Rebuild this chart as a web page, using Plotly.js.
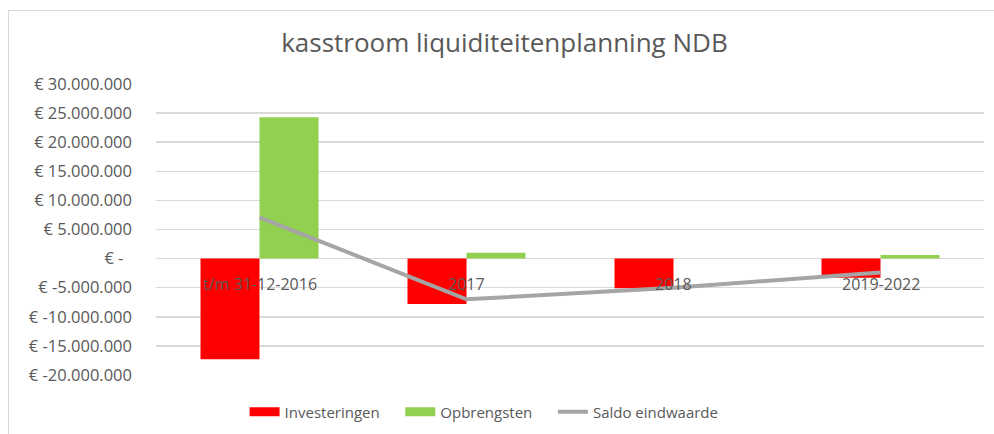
<!DOCTYPE html>
<html>
<head>
<meta charset="utf-8">
<script src="https://cdn.plot.ly/plotly-3.0.1.min.js"></script>
<style>
  html, body { margin: 0; padding: 0; background: #fff; }
  #wrap { position: relative; width: 994px; height: 434px; overflow: hidden; }
  #frame { position: absolute; left: 8px; top: 10px; width: 1100px; height: 500px; border: 1.5px solid #D9D9D9; box-sizing: border-box; }
  #chart { position: absolute; left: 0; top: 0; width: 994px; height: 434px; }
</style>
</head>
<body>
<div id="wrap">
  <div id="frame"></div>
  <div id="chart"></div>
</div>
<script>
const categories = ["t/m 31-12-2016", "2017", "2018", "2019-2022"];
const investeringen = [-17300000, -7800000, -5100000, -3300000];
const opbrengsten = [24300000, 1000000, 0, 600000];
const saldo = [7100000, -7000000, -5000000, -2400000];
const tickValues = [30000000, 25000000, 20000000, 15000000, 10000000, 5000000, 0, -5000000, -10000000, -15000000, -20000000];
const tickLabels = ["€ 30.000.000", "€ 25.000.000", "€ 20.000.000", "€ 15.000.000", "€ 10.000.000", "€ 5.000.000", "€ -\u00a0\u00a0", "€ -5.000.000", "€ -10.000.000", "€ -15.000.000", "€ -20.000.000"];

const font = "'Open Sans', 'Noto Sans', sans-serif";
const textColor = "#595959";
const red = "#FF0000", green = "#92D050", grey = "#A5A5A5";
const pad = "\u00a0\u00a0\u00a0\u00a0";

const traces = [
  { type: "bar", name: "Investeringen", legendgroup: "inv", showlegend: false, x: categories, y: investeringen, marker: { color: red } },
  { type: "bar", name: "Opbrengsten", legendgroup: "opb", showlegend: false, x: categories, y: opbrengsten, marker: { color: green } },
  { type: "scatter", mode: "lines", name: "Saldo eindwaarde", legendgroup: "sal", showlegend: false, x: categories, y: saldo, line: { color: grey, width: 4 } },
  // legend entries (wide rectangular swatches as in the reference)
  { type: "scatter", mode: "lines", name: "Investeringen" + pad, legendgroup: "inv", x: [null], y: [null], line: { color: red, width: 9 } },
  { type: "scatter", mode: "lines", name: "Opbrengsten" + pad, legendgroup: "opb", x: [null], y: [null], line: { color: green, width: 9 } },
  { type: "scatter", mode: "lines", name: "Saldo eindwaarde", legendgroup: "sal", x: [null], y: [null], line: { color: grey, width: 4 } }
];

const annotations = categories.map((c, i) => ({
  x: i, y: 0, xref: "x", yref: "y", yanchor: "top", yshift: -12,
  text: c, showarrow: false, font: { family: font, size: 16, color: textColor }
}));

const layout = {
  width: 994, height: 434,
  margin: { l: 156, r: 10, t: 84, b: 59 },
  paper_bgcolor: "rgba(0,0,0,0)",
  plot_bgcolor: "rgba(0,0,0,0)",
  barmode: "group",
  bargap: 0.43,
  bargroupgap: 0,
  title: { text: "kasstroom liquiditeitenplanning NDB", x: 0.5075, xref: "container", xanchor: "center", y: 1 - 43 / 434, yref: "container", yanchor: "middle", font: { family: font, size: 26, color: textColor } },
  xaxis: { type: "category", categoryorder: "array", categoryarray: categories, range: [-0.5, 3.5], showticklabels: false, showgrid: false, zeroline: false, showline: false, ticks: "" },
  yaxis: {
    range: [-20000000, 30000000], tickvals: tickValues, ticktext: tickLabels,
    showgrid: true, gridcolor: "#D9D9D9", gridwidth: 1.5, zeroline: true, zerolinecolor: "#D9D9D9", zerolinewidth: 1.5,
    ticks: "", ticklabelstandoff: 23, tickfont: { family: font, size: 16.5, color: textColor }, showline: false
  },
  legend: {
    orientation: "h", xref: "container", yref: "container", x: 0.487, xanchor: "center", y: 1 - 412 / 434, yanchor: "middle",
    font: { family: font, size: 15, color: textColor }, traceorder: "normal", itemwidth: 30
  },
  annotations: annotations,
  showlegend: true
};

Plotly.newPlot("chart", traces, layout, { displayModeBar: false, staticPlot: true });
</script>
</body>
</html>
